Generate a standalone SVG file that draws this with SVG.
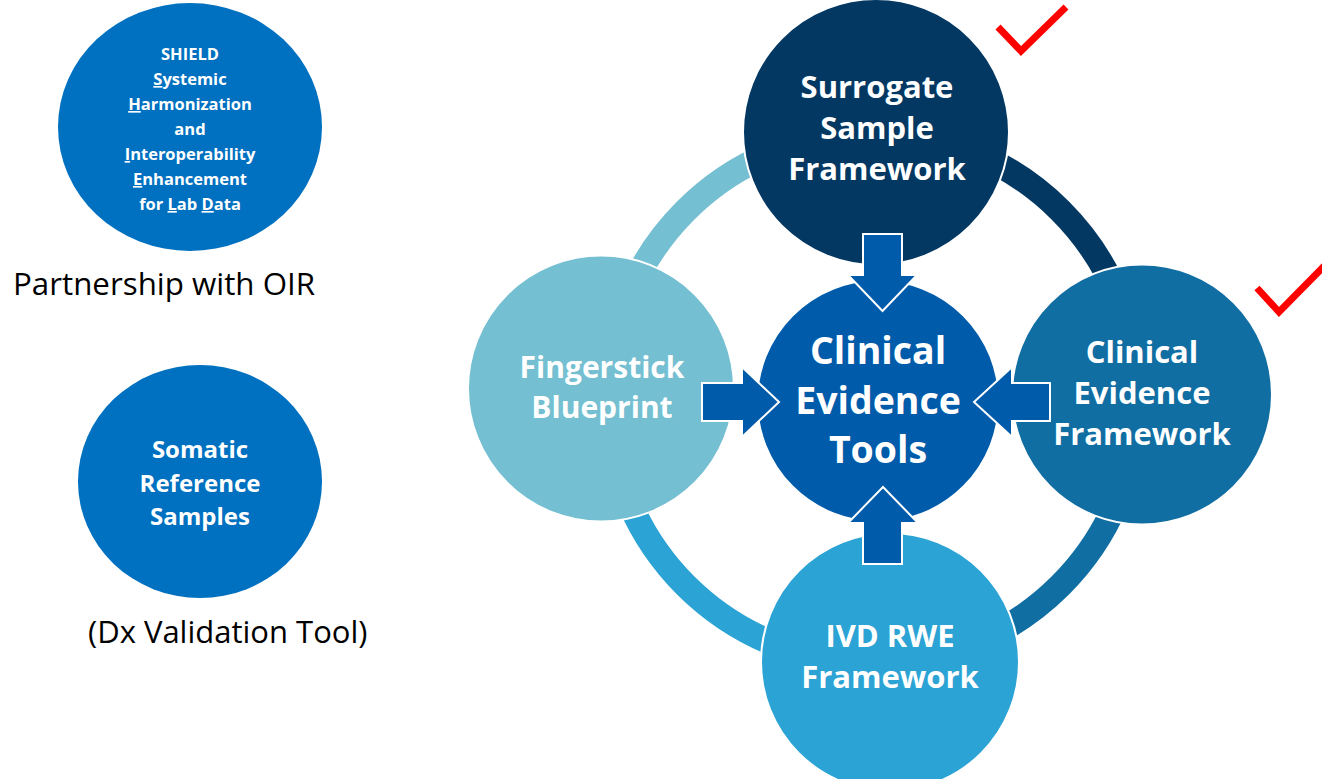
<svg xmlns="http://www.w3.org/2000/svg" width="1322" height="779" viewBox="0 0 1322 779">
<style>
.node{stroke:#fff;stroke-width:2}
.lbl{font-family:"Open Sans","Liberation Sans",sans-serif;font-weight:bold;fill:#fff;text-anchor:middle}
.plain{font-family:"Open Sans","Liberation Sans",sans-serif;fill:#000}
.ring{fill:none;stroke-width:25}
.arrow{fill:#005BAA;stroke:#fff;stroke-width:2;stroke-linejoin:miter}
.check{fill:none;stroke:#FF0000;stroke-width:7;stroke-linejoin:miter;stroke-linecap:butt}
.u{text-decoration:underline}
</style>
<rect width="1322" height="779" fill="#fff"/>
<g id="connectors">
<path class="ring" stroke="#74BFD1" d="M 608 398 A 265 265 0 0 1 873 133"/>
<path class="ring" stroke="#033863" d="M 873 133 A 265 265 0 0 1 1138 398"/>
<path class="ring" stroke="#106EA3" d="M 1138 398 A 265 265 0 0 1 873 663"/>
<path class="ring" stroke="#2BA3D4" d="M 873 663 A 265 265 0 0 1 608 398"/>
</g>
<g id="shield">
<ellipse cx="190" cy="127" rx="132" ry="124" fill="#0070C0"/>
<text class="lbl" font-size="16.5" x="190" y="60">SHIELD</text>
<text class="lbl" font-size="16.5" x="190" y="85"><tspan class="u">S</tspan>ystemic</text>
<text class="lbl" font-size="16.5" x="190" y="110"><tspan class="u">H</tspan>armonization</text>
<text class="lbl" font-size="16.5" x="190" y="135">and</text>
<text class="lbl" font-size="16.5" x="190" y="160"><tspan class="u">I</tspan>nteroperability</text>
<text class="lbl" font-size="16.5" x="190" y="185"><tspan class="u">E</tspan>nhancement</text>
<text class="lbl" font-size="16.5" x="190" y="210">for <tspan class="u">L</tspan>ab <tspan class="u">D</tspan>ata</text>
</g>
<g id="partnership">
<text class="plain" font-size="31.3" x="13" y="295">Partnership with OIR</text>
</g>
<g id="somatic">
<ellipse cx="200" cy="481.5" rx="122" ry="116.5" fill="#0070C0"/>
<text class="lbl" font-size="24" x="200" y="458">Somatic</text>
<text class="lbl" font-size="24" x="200" y="492">Reference</text>
<text class="lbl" font-size="24" x="200" y="525">Samples</text>
</g>
<g id="dx-validation">
<text class="plain" font-size="31" x="88" y="643">(Dx Validation Tool)</text>
</g>
<g id="surrogate">
<circle class="node" cx="876" cy="132" r="133" fill="#033863"/>
<text class="lbl" font-size="31" x="877" y="98">Surrogate</text>
<text class="lbl" font-size="31" x="877" y="139">Sample</text>
<text class="lbl" font-size="31" x="877" y="180">Framework</text>
</g>
<g id="fingerstick">
<circle class="node" cx="601" cy="388.5" r="133" fill="#74BFD1"/>
<text class="lbl" font-size="30" x="602" y="378">Fingerstick</text>
<text class="lbl" font-size="30" x="602" y="418">Blueprint</text>
</g>
<g id="clinical-evidence-framework">
<circle class="node" cx="1142" cy="394.5" r="130" fill="#106EA3"/>
<text class="lbl" font-size="31" x="1142" y="363">Clinical</text>
<text class="lbl" font-size="31" x="1142" y="404">Evidence</text>
<text class="lbl" font-size="31" x="1142" y="445">Framework</text>
</g>
<g id="ivd-rwe">
<circle class="node" cx="890" cy="662" r="129" fill="#2BA3D4"/>
<text class="lbl" font-size="31" x="890" y="647">IVD RWE</text>
<text class="lbl" font-size="31" x="890" y="688">Framework</text>
</g>
<g id="clinical-evidence-tools">
<circle class="node" cx="878" cy="401" r="121" fill="#005BAA"/>
<text class="lbl" font-size="37.5" x="878" y="364">Clinical</text>
<text class="lbl" font-size="37.5" x="878" y="413.5">Evidence</text>
<text class="lbl" font-size="37.5" x="878" y="463">Tools</text>
</g>
<g id="arrows">
<polygon class="arrow" points="863,234 902,234 902,275 917,275 882.5,311 848,275 863,275"/>
<polygon class="arrow" points="702,383 742,383 742,367 779,402 742,437 742,421 702,421"/>
<polygon class="arrow" points="1050,383 1012,383 1012,367 974,402 1012,437 1012,421 1050,421"/>
<polygon class="arrow" points="863,564 863,523 848,523 883,487 918,523 902,523 902,564"/>
</g>
<g id="checkmarks">
<polyline class="check" points="998,27 1021,51 1066,7"/>
<polyline class="check" points="1257,288 1279,312 1330,260"/>
</g>
</svg>
